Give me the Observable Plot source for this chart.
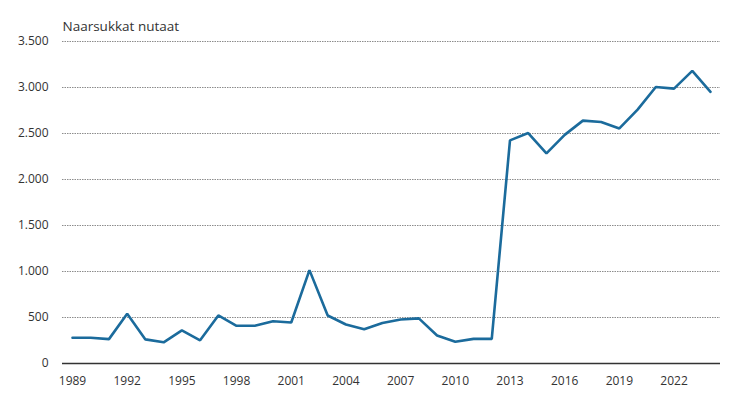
<!DOCTYPE html>
<html>
<head>
<meta charset="utf-8">
<script src="https://cdn.jsdelivr.net/npm/d3@7"></script>
<script src="https://cdn.jsdelivr.net/npm/@observablehq/plot@0.6"></script>
<style>
  body { margin: 0; background: #fff; }
  #chart { width: 737px; height: 396px; }
</style>
</head>
<body>
<div id="chart"></div>
<script>
const years = d3.range(1989, 2025);
const values = [280, 280, 265, 540, 262, 230, 360, 252, 522, 410, 410, 460, 446, 1015, 522, 424, 372, 440, 478, 490, 305, 236, 268, 268, 2425, 2505, 2283, 2485, 2640, 2625, 2555, 2760, 3005, 2988, 3180, 2953];
const yTicks = [0, 500, 1000, 1500, 2000, 2500, 3000, 3500];
const xTicks = [1989, 1992, 1995, 1998, 2001, 2004, 2007, 2010, 2013, 2016, 2019, 2022];
const title = "Naarsukkat nutaat";

const data = years.map((y, i) => ({year: y, value: values[i]}));
const fmt = d => d3.format(",")(d).replace(/,/g, ".");

const chart = Plot.plot({
  width: 737,
  height: 396,
  marginLeft: 62,
  marginRight: 17,
  marginTop: 41,
  marginBottom: 33,
  style: {fontFamily: "'Open Sans', sans-serif", fontSize: "12px", color: "#333"},
  x: {domain: [1989, 2024], insetLeft: 10, insetRight: 10},
  y: {domain: [0, 3500]},
  marks: [
    Plot.ruleY(yTicks.filter(d => d > 0), {stroke: "#8c8c8c", strokeDasharray: "1.5,1", strokeWidth: 1.2}),
    Plot.ruleY([0], {stroke: "#333", strokeWidth: 1.5}),
    Plot.axisY({ticks: yTicks, tickFormat: fmt, tickSize: 0, tickPadding: 14, label: null, fill: "#333", fontSize: 12}),
    Plot.axisX({ticks: xTicks, tickFormat: d => String(d), tickSize: 0, tickPadding: 13, label: null, fill: "#333", fontSize: 12}),
    Plot.line(data, {x: "year", y: "value", stroke: "#1b6b9c", strokeWidth: 2.6, strokeLinejoin: "miter"}),
    Plot.text([title], {frameAnchor: "top-left", dy: -20, text: d => d, textAnchor: "start", fontSize: 13.5, fill: "#333"})
  ]
});
document.getElementById("chart").appendChild(chart);
</script>
</body>
</html>
